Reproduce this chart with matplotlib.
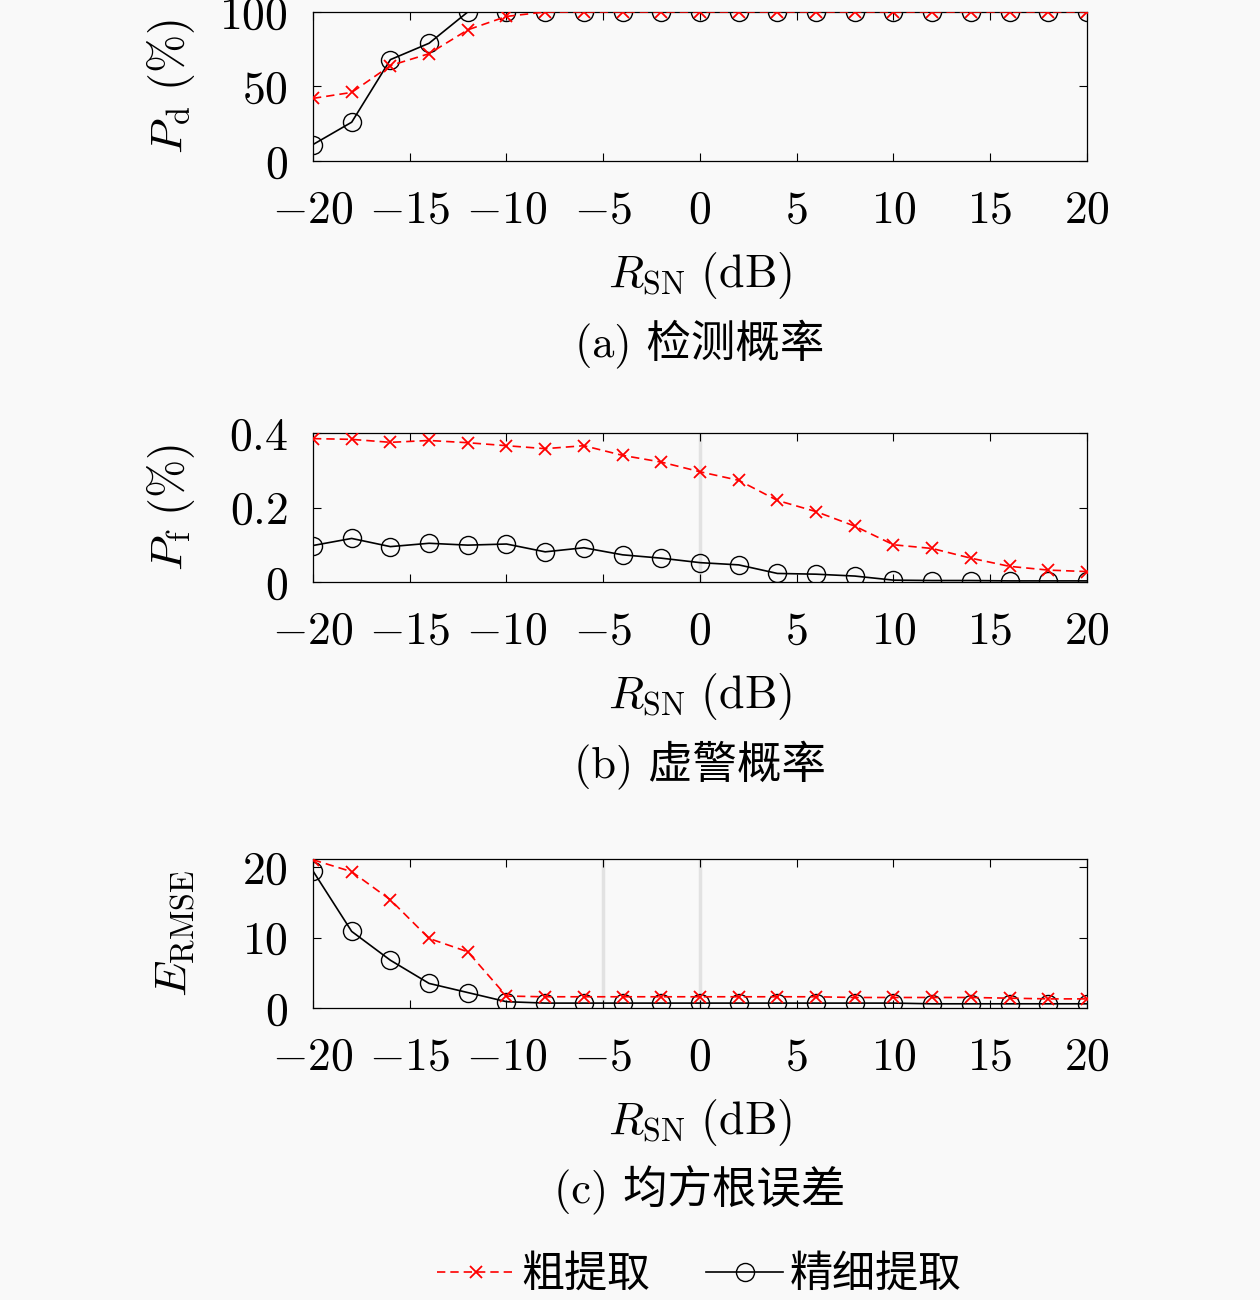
import matplotlib
matplotlib.use("Agg")
import matplotlib.pyplot as plt
import numpy as np

plt.rcParams['mathtext.fontset'] = 'cm'
plt.rcParams['font.family'] = ['cmr10', 'Noto Sans CJK SC', 'DejaVu Sans']
plt.rcParams['axes.unicode_minus'] = False

# SNR axis (dB)
snr = list(range(-20, 21, 2))

# (a) detection probability (%)
pd_coarse = [42, 46, 64, 72, 88, 97, 100, 100, 100, 100, 100,
             100, 100, 100, 100, 100, 100, 100, 100, 100, 100]
pd_fine = [11, 26, 68, 79, 100, 100, 100, 100, 100, 100, 100,
           100, 100, 100, 100, 100, 100, 100, 100, 100, 100]

# (b) false alarm probability (%)
pf_coarse = [0.385, 0.383, 0.375, 0.380, 0.374, 0.366, 0.358, 0.366, 0.340, 0.322, 0.296,
             0.273, 0.219, 0.189, 0.150, 0.100, 0.090, 0.064, 0.042, 0.032, 0.028]
pf_fine = [0.098, 0.117, 0.095, 0.104, 0.099, 0.102, 0.081, 0.092, 0.073, 0.064, 0.052,
           0.046, 0.023, 0.021, 0.016, 0.005, 0.004, 0.004, 0.003, 0.003, 0.003]

# (c) RMSE
rmse_coarse = [21.1, 19.4, 15.4, 9.9, 8.0, 1.7, 1.6, 1.6, 1.6, 1.6, 1.6,
               1.6, 1.6, 1.6, 1.5, 1.5, 1.5, 1.5, 1.4, 1.3, 1.3]
rmse_fine = [19.5, 10.9, 6.8, 3.5, 2.2, 0.9, 0.7, 0.7, 0.7, 0.7, 0.7,
             0.7, 0.7, 0.7, 0.7, 0.7, 0.6, 0.6, 0.6, 0.6, 0.6]

xticks = [-20, -15, -10, -5, 0, 5, 10, 15, 20]

panels = [
    (pd_coarse, pd_fine, (0, 100), [0, 50, 100], r'$P_{\mathrm{d}}\ (\%)$', '(a) 检测概率', [], 0.9908),
    (pf_coarse, pf_fine, (0, 0.4), [0, 0.2, 0.4], r'$P_{\mathrm{f}}\ (\%)$', '(b) 虚警概率', [0], 0.6669),
    (rmse_coarse, rmse_fine, (0, 21.2), [0, 10, 20], r'$E_{\mathrm{RMSE}}$', '(c) 均方根误差', [-5, 0], 0.3392),
]

fs = 33
bg = '#f9f9f9'
fig = plt.figure(figsize=(12.6, 13), dpi=100, facecolor=bg)
left, width, height = 0.2484, 0.6143, 0.1146

for coarse, fine, ylim, yticks, ylabel, caption, glines, top in panels:
    ax = fig.add_axes([left, top - height, width, height], facecolor=bg)
    for g in glines:
        ax.axvline(g, color='#e2e2e2', lw=2.5, zorder=0)
    l1, = ax.plot(snr, coarse, color='red', ls=(0, (5, 3)), lw=1.2,
                  marker='x', ms=9, mew=1.3, label='粗提取', zorder=3)
    l2, = ax.plot(snr, fine, color='black', ls='-', lw=1.2,
                  marker='o', ms=13, mfc='none', mew=1.0, label='精细提取', zorder=2)
    ax.set_xlim(-20, 20)
    ax.set_ylim(*ylim)
    ax.set_xticks(xticks)
    ax.set_xticklabels([f'${v}$' for v in xticks])
    ax.set_yticks(yticks)
    ax.set_yticklabels([f'${v:g}$' for v in yticks])
    ax.tick_params(direction='in', top=True, right=True, length=6, width=0.8,
                   labelsize=fs)
    ax.tick_params(axis='x', pad=21)
    ax.tick_params(axis='y', pad=18)
    for s in ax.spines.values():
        s.set_linewidth(0.9)
    ax.set_ylabel(ylabel, fontsize=fs)
    ax.yaxis.set_label_coords(-0.15, 0.5)
    ax.set_xlabel(r'$R_{\mathrm{SN}}\ (\mathrm{dB})$', fontsize=fs)
    ax.xaxis.set_label_coords(0.5, -0.6)
    fig.text(left + width / 2, top - height - 0.1405, caption, fontsize=32,
             ha='center', va='center')

fig.legend(handles=[l1, l2], loc='center', bbox_to_anchor=(0.555, 1 - 1275 / 1300),
           ncol=2, frameon=False, handlelength=1.8,
           columnspacing=1.3, handletextpad=0.15,
           prop={'family': ['Noto Sans CJK SC'], 'size': 31})

fig.savefig('out.png', dpi=100, facecolor=bg)
